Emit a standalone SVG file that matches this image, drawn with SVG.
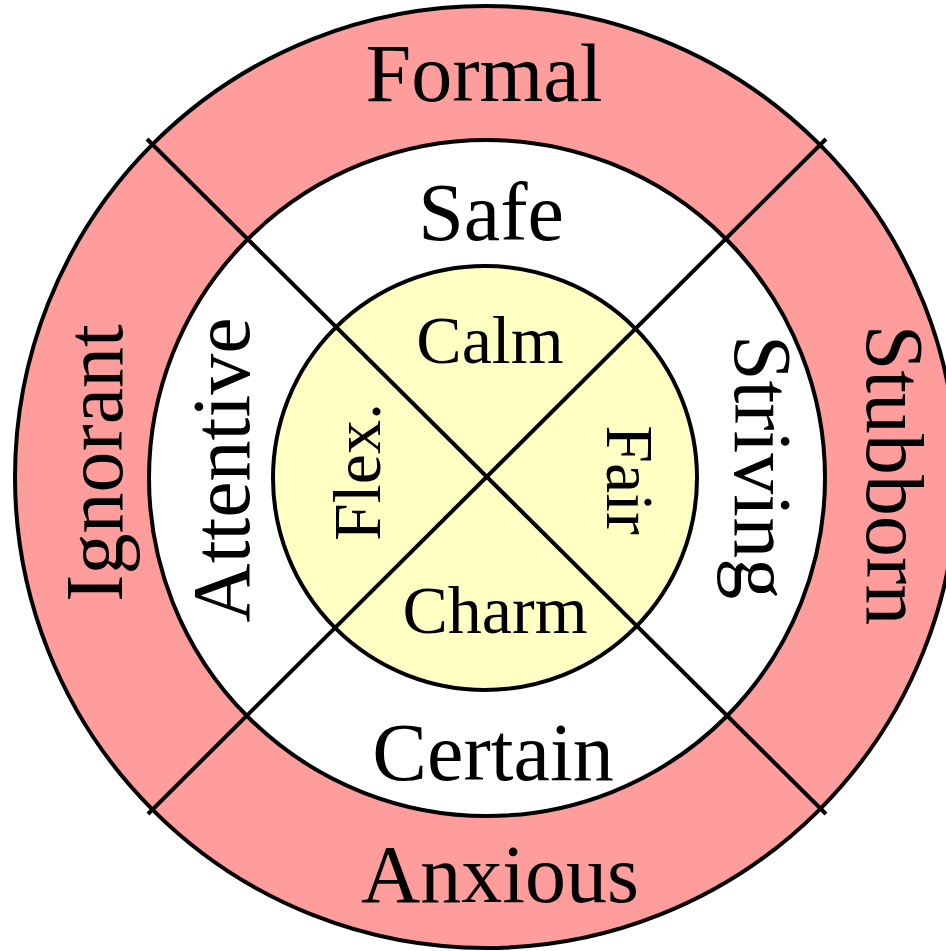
<svg xmlns="http://www.w3.org/2000/svg" width="946" height="951" viewBox="0 0 946 951">
<style>
.ring{stroke:#000;stroke-width:4}
.t{font-family:"Liberation Serif","Times New Roman",serif;fill:#000;text-anchor:middle}
.big{font-size:82px}
.sm{font-size:68px}
.ln{stroke:#000;stroke-width:4;fill:none}
</style>
<rect width="946" height="951" fill="#fff"/>
<g id="outer">
<circle class="ring" cx="486" cy="477" r="471" fill="#FF9C9C"/>
</g>
<g id="middle">
<circle class="ring" cx="487" cy="478" r="338" fill="#FFFFFF"/>
</g>
<g id="inner">
<circle class="ring" cx="485" cy="478" r="212" fill="#FFFFC4"/>
</g>
<g id="connectors">
<line class="ln" x1="147" y1="139" x2="826" y2="814"/>
<line class="ln" x1="826" y1="139" x2="148" y2="814"/>
</g>
<g id="labels-outer">
<text class="t big" x="484" y="101">Formal</text>
<text class="t big" x="500" y="902">Anxious</text>
<text class="t big" transform="translate(122,463) rotate(-90)">Ignorant</text>
<text class="t big" transform="translate(867,475) rotate(90)">Stubborn</text>
</g>
<g id="labels-middle">
<text class="t big" x="491" y="240">Safe</text>
<text class="t big" x="493" y="780">Certain</text>
<text class="t big" transform="translate(249,470) rotate(-90)">Attentive</text>
<text class="t big" transform="translate(735,467) rotate(90)">Striving</text>
</g>
<g id="labels-inner">
<text class="t sm" x="490" y="363">Calm</text>
<text class="t sm" x="495" y="633">Charm</text>
<text class="t sm" transform="translate(380,472) rotate(-90)">Flex.</text>
<text class="t sm" transform="translate(607,480) rotate(90)">Fair</text>
</g>
</svg>
